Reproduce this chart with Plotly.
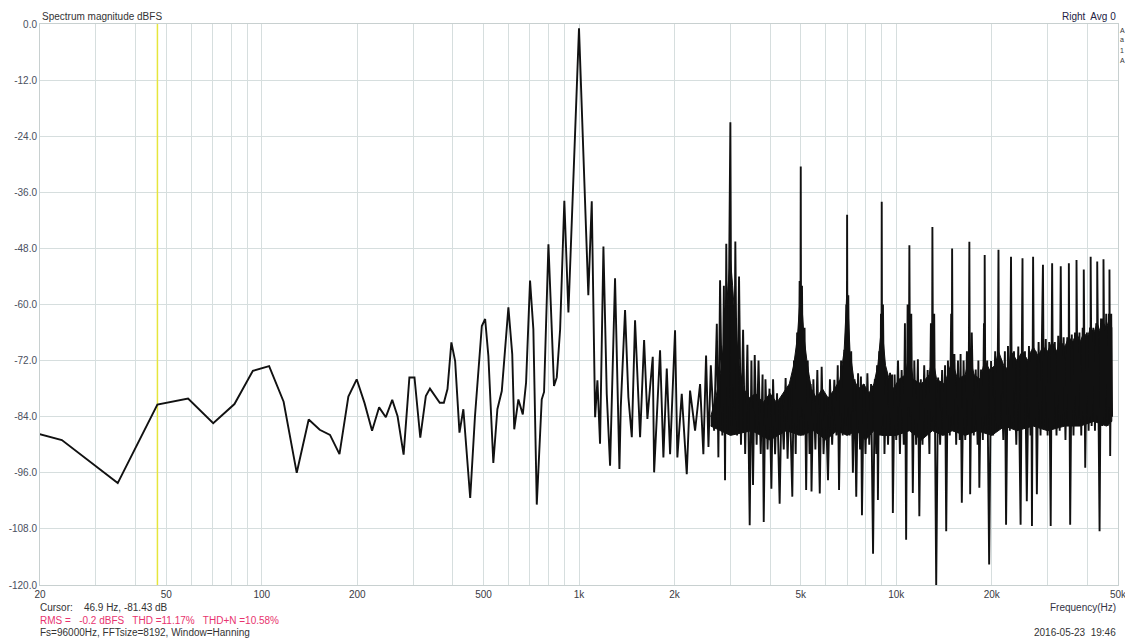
import plotly.graph_objects as go

# ---- spectrum data (Hz, dBFS) ----
# resolved low-frequency bins up to the 1 kHz tone
bins_hz = [11.72, 23.44, 35.16, 46.88, 58.59, 70.31, 82.03, 93.75, 105.5, 117.2,
           128.9, 140.6, 152.3, 164.1, 175.8, 187.5, 199.2, 210.9, 222.7, 234.4,
           246.1, 257.8, 268, 280, 292, 303, 316, 329, 339, 352,
           364, 375, 385, 396, 407, 420, 432, 454, 470, 494,
           506, 518, 537, 553, 571, 599, 616, 625, 644, 665,
           681, 701, 718, 736, 763, 776, 801, 834, 851, 872,
           899, 926]
bins_db = [-83.5, -89.0, -98.2, -81.4, -80.1, -85.4, -81.3, -74.2, -73.2, -80.8,
           -96.0, -84.6, -86.8, -87.9, -92.0, -79.7, -76.0, -81.1, -87.0, -82.0,
           -84.1, -80.4, -83.9, -92.1, -75.6, -75.6, -88.5, -79.6, -78.0, -79.6,
           -81.0, -81.0, -78.1, -68.1, -72.1, -87.4, -82.4, -101.4, -83.9, -64.6,
           -63.1, -71.0, -93.9, -82.4, -78.5, -60.6, -70.6, -86.7, -80.3, -83.5,
           -76.7, -54.9, -65.3, -102.8, -80.3, -78.7, -47.1, -77.4, -75.6, -65.3,
           -37.8, -61.7]

# fundamental
tone_hz = [1000]
tone_db = [-0.9]

# skirt above the fundamental
skirt_hz = [1070, 1097, 1124, 1143, 1165, 1194, 1223, 1253, 1299, 1341,
            1354, 1397, 1431, 1467, 1502, 1558, 1604, 1643, 1675, 1708,
            1725, 1759, 1801, 1845, 1891, 1937, 2008, 2042, 2108, 2186,
            2239, 2322, 2408, 2466, 2515, 2559, 2603, 2666, 2719, 2750,
            2784]
skirt_db = [-58.0, -37.9, -84.1, -76.2, -89.8, -47.6, -79.1, -94.5, -54.4, -95.2,
            -82.0, -61.2, -79.8, -88.4, -63.4, -88.4, -67.6, -84.5, -77.7, -71.2,
            -95.9, -83.4, -69.8, -92.7, -73.7, -92.0, -65.5, -92.7, -79.1, -96.3,
            -78.4, -87.0, -77.0, -92.0, -70.9, -90.5, -73.0, -87.0, -64.1, -92.7,
            -54.8]

# odd harmonics
harmonic_hz = [3000, 5000, 7000, 9000, 11000, 13000, 15000, 17000, 19000, 21000,
               23000, 25000, 27000, 29000, 31000, 33000, 35000, 37000, 39000, 41000,
               43000, 45000, 47000]
harmonic_db = [-21.0, -30.5, -40.8, -38.0, -47.3, -43.4, -48.0, -46.6, -49.4, -48.3,
               -49.8, -50.1, -49.8, -51.5, -51.2, -51.8, -51.2, -50.5, -52.5, -49.8,
               -50.8, -50.3, -52.5]

# dense noise floor between the harmonics
noise_hz = [2830, 2862, 2886, 2912, 2945, 2975, 3025, 3058, 3085, 3110,
            3150, 3195, 3240, 3290, 3340, 3395, 3452, 3495, 3536, 3580,
            3630, 3680, 3740, 3790, 3822, 3870, 3930, 3985, 4040, 4090,
            4150, 4210, 4290, 4350, 4420, 4480, 4545, 4610, 4703, 4760,
            4820, 4870, 4920, 4960, 4985, 5015, 5045, 5090, 5140, 5200,
            5260, 5330, 5370, 5406, 5480, 5560, 5640, 5740, 5820, 5900,
            5990, 6094, 6180, 6280, 6380, 6480, 6540, 6602, 6700, 6780,
            6860, 6920, 6960, 6985, 7020, 7060, 7130, 7210, 7300, 7390,
            7480, 7580, 7690, 7740, 7797, 7900, 8000, 8110, 8220, 8330,
            8450, 8560, 8650, 8700, 8754, 8840, 8900, 8950, 8980, 9025,
            9080, 9180, 9300, 9420, 9560, 9650, 9700, 9757, 9880, 10000,
            10130, 10270, 10400, 10560, 10650, 10743, 10860, 10950, 11060, 11150,
            11278, 11400, 11550, 11700, 11824, 11950, 12100, 12250, 12400, 12560,
            12720, 12860, 12960, 13070, 13170, 13365, 13550, 13750, 13950, 14150,
            14250, 14370, 14550, 14750, 14900, 14960, 15070, 15250, 15450, 15650,
            15850, 15950, 16095, 16300, 16500, 16700, 16900, 17100, 17300, 17550,
            17800, 18050, 18150, 18277, 18500, 18750, 18900, 18970, 19100, 19350,
            19626, 19900, 20200, 20500, 20800, 20950, 21100, 21400, 21750, 22000,
            22190, 22500, 22800, 22950, 23150, 23500, 23900, 24250, 24660, 24900,
            25100, 25450, 25795, 26200, 26500, 26650, 26778, 26950, 27200, 27500,
            27748, 28100, 28500, 28950, 29200, 29600, 30000, 30350, 30679, 30950,
            31200, 31600, 32000, 32400, 32750, 32950, 33250, 33700, 34150, 34600,
            34950, 35335, 35750, 36200, 36600, 36950, 37300, 37800, 38300, 38700,
            38950, 39413, 39900, 40400, 40800, 40970, 41300, 41800, 42300, 42700,
            42960, 43740, 44200, 44600, 44800, 44970, 45400, 45900, 46400, 46800,
            46970, 47240, 47600, 47900]
noise_db = [-88.0, -56.0, -97.6, -47.0, -87.0, -58.0, -86.0, -60.0, -82.0, -46.5,
            -88.0, -54.0, -90.0, -65.4, -92.0, -68.6, -107.2, -72.0, -98.6, -70.8,
            -90.0, -72.0, -92.0, -75.0, -106.5, -76.0, -91.0, -78.0, -99.4, -76.0,
            -92.0, -79.0, -102.6, -80.0, -91.0, -75.7, -93.0, -78.0, -101.1, -72.0,
            -92.0, -66.0, -88.0, -55.0, -84.0, -82.0, -56.0, -88.0, -65.0, -99.7,
            -72.0, -92.0, -77.0, -100.0, -76.0, -91.0, -74.0, -100.4, -73.3, -92.0,
            -80.0, -97.6, -76.0, -90.0, -76.1, -88.0, -73.0, -99.7, -72.0, -88.0,
            -69.7, -86.0, -60.0, -84.0, -82.0, -58.0, -88.0, -70.0, -96.0, -76.0,
            -101.1, -74.7, -91.0, -75.4, -105.1, -77.0, -92.0, -74.7, -90.0, -77.0,
            -113.3, -76.0, -92.0, -73.0, -101.8, -70.0, -88.0, -62.0, -86.0, -84.0,
            -60.0, -92.0, -74.7, -90.0, -74.6, -88.0, -75.0, -104.6, -75.0, -89.0,
            -72.0, -92.0, -74.0, -90.0, -64.0, -110.3, -60.0, -82.0, -84.0, -62.0,
            -100.3, -72.0, -90.0, -71.7, -105.3, -76.0, -90.0, -73.0, -88.0, -74.0,
            -92.0, -64.0, -85.0, -84.0, -62.0, -120.0, -75.6, -90.0, -74.0, -88.0,
            -73.0, -108.5, -72.0, -88.0, -62.0, -84.0, -86.0, -70.6, -90.0, -72.0,
            -89.0, -70.6, -102.4, -72.0, -89.0, -70.0, -86.0, -100.6, -66.0, -88.0,
            -73.9, -90.0, -72.0, -99.2, -73.9, -89.0, -64.0, -84.0, -86.0, -72.0,
            -115.6, -72.1, -88.0, -70.0, -87.0, -62.0, -86.0, -71.7, -89.0, -70.0,
            -107.1, -68.9, -87.0, -63.0, -86.0, -70.0, -90.0, -69.0, -107.1, -64.0,
            -86.0, -70.0, -102.1, -68.9, -88.0, -70.0, -107.4, -64.0, -86.0, -70.0,
            -100.6, -68.0, -88.0, -62.0, -86.0, -67.4, -88.0, -68.0, -107.4, -62.0,
            -86.0, -68.0, -88.0, -66.7, -87.0, -61.0, -86.0, -67.0, -89.0, -67.0,
            -85.0, -107.1, -66.4, -88.0, -66.0, -84.0, -86.0, -66.0, -88.0, -65.0,
            -84.0, -94.9, -66.0, -87.0, -64.9, -84.0, -86.0, -65.0, -87.0, -64.0,
            -84.0, -108.5, -63.0, -86.0, -63.0, -84.0, -85.0, -62.0, -86.0, -62.0,
            -82.0, -92.4, -62.0, -84.0]

# solid body of the noise floor: ragged upper edge (with harmonic skirts)
floor_top_hz = [2600, 2700, 2800, 2880, 2950, 3000, 3050, 3120, 3200, 3300,
                3450, 3600, 3800, 4000, 4200, 4400, 4600, 4750, 4880, 4960,
                5000, 5040, 5120, 5250, 5400, 5600, 5850, 6100, 6400, 6650,
                6850, 6950, 7000, 7050, 7150, 7350, 7600, 7900, 8200, 8500,
                8750, 8920, 9000, 9080, 9250, 9500, 9800, 10200, 10700, 11000,
                11300, 12000, 12700, 13000, 13400, 14200, 15000, 15600, 16500, 17000,
                17600, 18400, 19000, 19700, 20500, 21000, 21800, 22600, 23000, 24000,
                25000, 26000, 27000, 28000, 29000, 30000, 31000, 32000, 33000, 34000,
                35000, 36000, 37000, 38000, 39000, 40000, 41000, 42000, 43000, 44000,
                45000, 46000, 47000, 47800]
floor_top_db = [-84, -80, -74, -66, -56, -50, -56, -66, -73, -78,
                -80, -79, -81, -79, -81, -79, -77, -73, -67, -60,
                -57, -60, -67, -73, -78, -80, -78, -80, -78, -76,
                -70, -61, -55, -61, -70, -76, -78, -77, -79, -77,
                -73, -67, -63, -67, -73, -76, -78, -76, -75, -70,
                -76, -77, -75, -71, -76, -77, -72, -76, -75, -71,
                -75, -76, -72, -74, -73, -70, -73, -74, -70, -72,
                -70, -72, -69, -71, -69, -70, -68, -70, -68, -69,
                -67, -68, -66, -68, -66, -67, -65, -66, -64, -66,
                -64, -65, -63, -65]
# lower edge of the solid body
floor_bot_hz = [2600, 3000, 3500, 4000, 4500, 5000, 5500, 6000, 6500, 7000,
                7500, 8000, 8500, 9000, 10000, 11000, 12000, 13000, 14000, 15000,
                16500, 18000, 20000, 22000, 24000, 27000, 30000, 34000, 38000, 42000,
                46000, 47800]
floor_bot_db = [-86, -88, -87, -89, -87, -88, -87, -89, -87, -88,
                -87, -89, -87, -88, -88, -87, -89, -87, -88, -87,
                -88, -87, -88, -86, -87, -86, -87, -86, -86, -85,
                -86, -85]

# cursor position
cursor_hz = 46.9

# axis ticks
y_ticks = [0, -12, -24, -36, -48, -60, -72, -84, -96, -108, -120]
x_labels = {20: "20", 50: "50", 100: "100", 200: "200", 500: "500", 1000: "1k",
            2000: "2k", 5000: "5k", 10000: "10k", 20000: "20k", 50000: "50k"}

# ---- assemble the trace in frequency order ----
upper = sorted(zip(harmonic_hz + noise_hz, harmonic_db + noise_db))
freq = bins_hz + tone_hz + skirt_hz + [p[0] for p in upper]
level = bins_db + tone_db + skirt_db + [p[1] for p in upper]

# grid lines at every 1..9 step of each decade
grid_vals = []
for dec in (10, 100, 1000, 10000):
    for m in range(1, 10):
        v = m * dec
        if 20 <= v <= 50000:
            grid_vals.append(v)
grid_text = [x_labels.get(v, "") for v in grid_vals]

FONT = "Liberation Sans, Arial, sans-serif"
GRID = "#d6dede"
INK = "#111111"

fig = go.Figure()

fig.add_trace(go.Scatter(
    x=[cursor_hz, cursor_hz], y=[-120, 0], mode="lines",
    line=dict(color="#e6e63c", width=1.5), hoverinfo="skip", showlegend=False))

# filled body of the dense noise floor
fig.add_trace(go.Scatter(
    x=floor_top_hz + floor_bot_hz[::-1],
    y=floor_top_db + floor_bot_db[::-1],
    mode="lines", fill="toself", fillcolor=INK,
    line=dict(color=INK, width=1), hoverinfo="skip", showlegend=False))

fig.add_trace(go.Scatter(
    x=freq, y=level, mode="lines",
    line=dict(color=INK, width=1.9), showlegend=False))

fig.update_layout(
    width=1125, height=640,
    margin=dict(l=40, r=7, t=24, b=55),
    paper_bgcolor="white", plot_bgcolor="white",
    font=dict(family=FONT, size=10, color="#333333"),
    xaxis=dict(type="log", range=[1.30103, 4.69897], automargin=False,
               tickvals=grid_vals, ticktext=grid_text,
               ticklabeloverflow="allow",
               showgrid=True, gridcolor=GRID, gridwidth=1,
               showline=True, linecolor="#c8d0d0", mirror=True,
               ticks="", zeroline=False,
               tickfont=dict(size=10, color="#3a3a44")),
    yaxis=dict(range=[-120, 0], tickvals=y_ticks, automargin=False,
               ticktext=[f"{v:.1f}" for v in y_ticks],
               showgrid=True, gridcolor=GRID, gridwidth=1,
               showline=True, linecolor="#c8d0d0", mirror=True,
               ticks="", zeroline=False,
               tickfont=dict(size=10, color="#4a5060")),
)

H = 561.0  # plot height in px
W = 1078.0  # plot width in px


def py(ypx):
    return (585 - ypx) / H


def px(xpx):
    return (xpx - 40) / W


notes = [
    dict(x=px(40), y=py(16), text="Spectrum magnitude dBFS", xanchor="left",
         color="#333333"),
    dict(x=px(1118), y=py(16), text="Right  Avg 0", xanchor="right",
         color="#222244"),
    dict(x=px(38), y=py(607), text="Cursor:    46.9 Hz, -81.43 dB", xanchor="left",
         color="#333333"),
    dict(x=px(38), y=py(620),
         text="RMS =   -0.2 dBFS   THD =11.17%   THD+N =10.58%",
         xanchor="left", color="#e8336e"),
    dict(x=px(38), y=py(633), text="Fs=96000Hz, FFTsize=8192, Window=Hanning",
         xanchor="left", color="#333333"),
    dict(x=px(1118), y=py(607), text="Frequency(Hz)", xanchor="right",
         color="#333344"),
    dict(x=px(1118), y=py(633), text="2016-05-23  19:46", xanchor="right",
         color="#333333"),
]
for n in notes:
    fig.add_annotation(xref="paper", yref="paper", x=n["x"], y=n["y"],
                       text=n["text"], showarrow=False, xanchor=n["xanchor"],
                       yanchor="middle", font=dict(size=10, color=n["color"]))

for ch, ypos in (("A", 31), ("a", 39), ("1", 50), ("A", 60)):
    fig.add_annotation(xref="paper", yref="paper", x=px(1118), y=py(ypos),
                       text=ch, showarrow=False, xanchor="left", yanchor="middle",
                       font=dict(size=7, color="#333333"))

fig.write_html("out.html")
